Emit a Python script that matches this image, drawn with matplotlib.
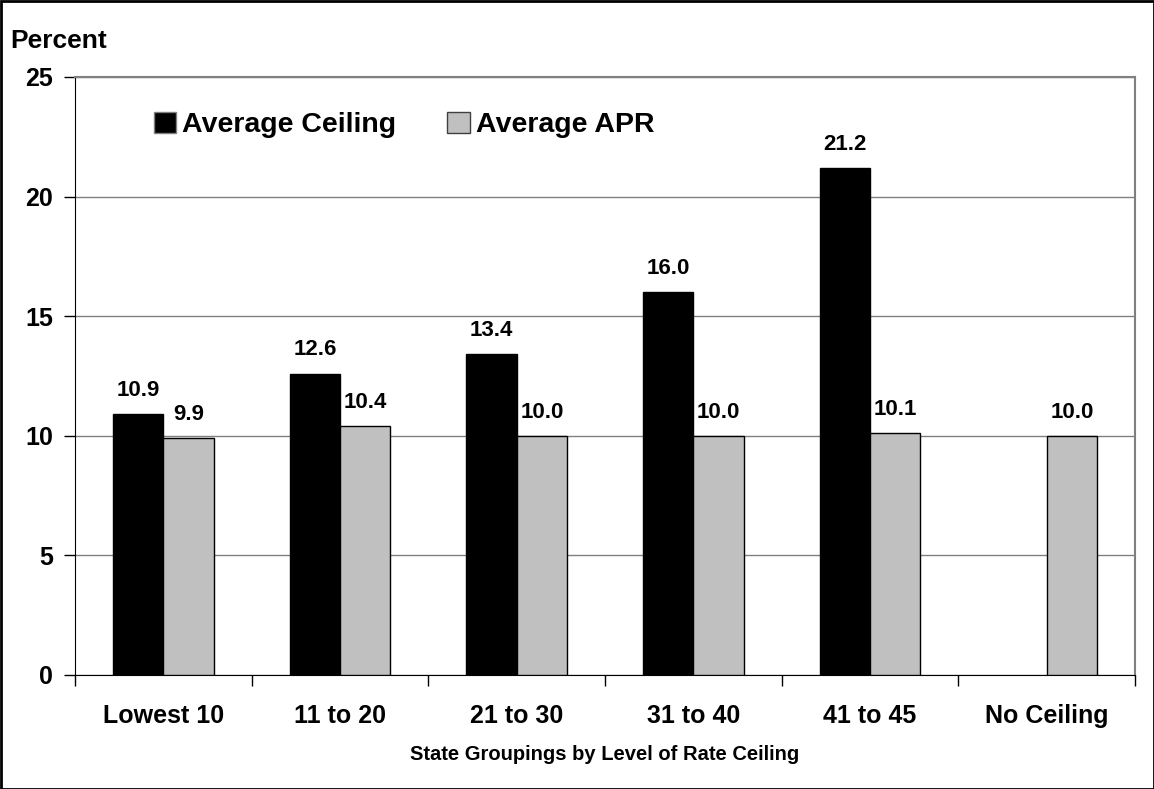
import matplotlib
matplotlib.use("Agg")
import matplotlib.pyplot as plt
import numpy as np
from matplotlib.patches import Rectangle, Patch

plt.rcParams['font.family'] = ['Liberation Sans', 'DejaVu Sans']
plt.rcParams['font.weight'] = 'bold'

categories = ["Lowest 10", "11 to 20", "21 to 30", "31 to 40", "41 to 45", "No Ceiling"]
avg_ceiling = [10.9, 12.6, 13.4, 16.0, 21.2, None]
avg_apr = [9.9, 10.4, 10.0, 10.0, 10.1, 10.0]
yticks = [0, 5, 10, 15, 20, 25]

fig = plt.figure(figsize=(11.54, 7.89), dpi=100)
ax = fig.add_axes([75/1154, 1-675/789, 1060/1154, 598/789])

x = np.arange(len(categories))
w = 0.285
for i, v in enumerate(avg_ceiling):
    if v is not None:
        ax.bar(x[i] - w/2, v, w, color='black', edgecolor='black', linewidth=1, zorder=3)
        ax.text(x[i] - w/2, v + 0.55, f"{v:.1f}", ha='center', va='bottom', fontsize=16, fontweight='bold')
for i, v in enumerate(avg_apr):
    ax.bar(x[i] + w/2, v, w, color='#c0c0c0', edgecolor='black', linewidth=1, zorder=3)
    ax.text(x[i] + w/2, v + 0.55, f"{v:.1f}", ha='center', va='bottom', fontsize=16, fontweight='bold')

ax.set_xlim(-0.5, len(categories) - 0.5)
ax.set_ylim(0, 25)
ax.set_yticks(yticks)
ax.set_yticklabels([str(t) for t in yticks], fontsize=18, fontweight='bold')
ax.yaxis.grid(True, color='#808080', linewidth=1, zorder=0)
ax.set_xticks(x)
ax.set_xticklabels(categories, fontsize=18, fontweight='bold')
ax.tick_params(axis='x', length=0, pad=21)
ax.set_xticks(np.arange(-0.5, len(categories)), minor=True)
ax.tick_params(axis='x', which='minor', length=8, width=1, color='black')
ax.tick_params(axis='y', length=8, width=1, pad=8)
for s in ['top', 'right']:
    ax.spines[s].set_color('#808080')
    ax.spines[s].set_linewidth(1.5)
ax.spines['left'].set_color('black')
ax.spines['bottom'].set_color('black')

ax.set_xlabel("State Groupings by Level of Rate Ceiling", fontsize=14.5, fontweight='bold', labelpad=12)
fig.text(10/1154, 1-41/789, "Percent", fontsize=19, fontweight='bold', va='center', ha='left')

handles = [Patch(facecolor='black', edgecolor='#808080', label='Average Ceiling'),
           Patch(facecolor='#c0c0c0', edgecolor='#404040', label='Average APR')]
leg = ax.legend(handles=handles, loc='upper left', bbox_to_anchor=(0.05, 0.985), ncol=2,
                frameon=False, prop={'size': 20.5, 'weight': 'bold'},
                handlelength=0.8, handleheight=0.8, handletextpad=0.2, columnspacing=1.8)

fig.patches.append(Rectangle((0.5/1154, 0.5/789), 1-1/1154, 1-1/789, transform=fig.transFigure,
                             fill=False, edgecolor='black', linewidth=2))
fig.savefig("out.png", dpi=100)
